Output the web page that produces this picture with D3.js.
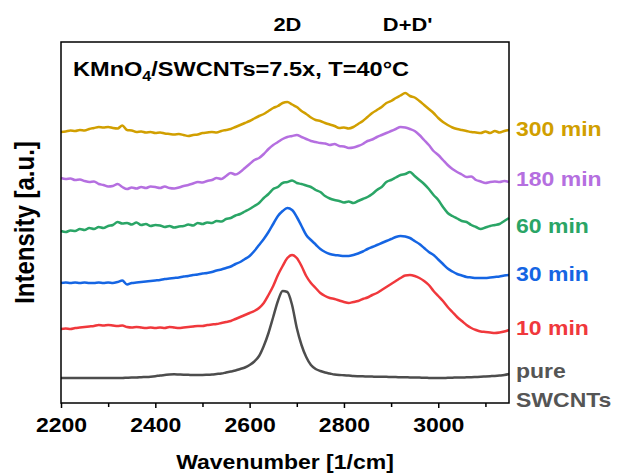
<!DOCTYPE html>
<html>
<head>
<meta charset="utf-8">
<script src="https://cdn.jsdelivr.net/npm/d3@7"></script>
<style>
  body { margin: 0; background: #fff; }
  text { font-family: "Liberation Sans", Arial, sans-serif; font-weight: bold; }
</style>
</head>
<body>
<div id="chart"></div>
<script>
// x sampling grid of the spectra (cm^-1)
const wavenumbers = d3.range(2200, 3151, 10)

// intensities (arbitrary units, offset already applied)
const pureSWCNTs = [25,25,25,25,25,25,25,25,25,25,25,25,25,25,25.3,25.5,25.5,25.8,26,26.3,26.8,27.5,28,28.5,28.7,28.5,28.3,28.2,28,28,28,28.2,28.5,29,29.5,30.5,31.5,32.5,34,35.5,38,41.5,47,57,70,86,102,112,111,98,75,58,46,38,34,32,30.5,29.5,28.5,28,27.8,27.5,27,26.8,26.7,26.5,26.4,26.3,26.3,26.2,26,25.9,25.8,25.7,25.6,25.5,25.4,25.2,25.1,25,25,25,25.2,25.3,25.5,25.5,25.7,25.8,26,26.2,26.5,26.8,27.1,27.5,28,29]
const min10 = [74,74.5,74,75,75.5,76,76.5,77,78,77.5,78,77.5,77,77.5,76,75.5,76,75.5,75,75.5,75,75.5,75,76,75.5,75,75.5,76,76.5,77,77,78,78.5,79,80,81,82,84,86,88,90,92,95,100,108,117,128,137,145,148,145,137,127,120,115,110,107,105,104,102.5,101,100,101,102,104,105.5,108,110,113,116,119,122,125,127.5,128,127,125,122,118,112,107,102,96,91,86,82,78,75,73,71.5,71,70.5,70,70.5,71.5,73]
const min30 = [120,120.5,120,120.5,120,120.5,120,120,120.5,120,120.5,120,121,122.5,118.5,120,120.5,121,121.5,122,122.5,123,124,124.5,125,125.5,126.5,127,128,128.5,129.5,130,131,132.5,133.5,135,136.5,139,141,144,147,152,158,164,171,179,187,192,195,193,186,177,168,163,158.5,154,151,149,148,147.5,147,147,148,149.5,151.5,154,156,158,160,162,164,166,167,166.5,165,162,159,155,151,148,143.5,139,134.5,131.5,129,127.5,126,125.5,125,125,125,125.5,126,126.5,127.5,128]
const min60 = [172,171,172.5,172,174,173,175,174,176,175,177,178,181,179.5,180,178.5,180.5,178,179,177,178,177.5,176,177,175.5,176.5,177,178.5,177.5,180,179,180.5,180,182,181.5,184,185,187.5,189,191.5,194,197,200,205,209,214,216,220,221,222.5,220,219,217.5,216,213,211,207,204.5,203,202,200.5,201.5,200,202,204,206,209,213,216,221,223,225.5,228,229,231,227,223,219,214,208,203,196,190,187,184.5,182,181,178,176,174,175.5,177,178,179,182,185]
const min180 = [225,224,224.5,223,223.5,222,221,221.5,219,218,216.5,217,219,216,214,215.5,214.5,216,215,216.5,216,215,216.5,215,214.5,215.5,217,218,219.5,221,220.5,222,223,225,224,227,230,228.5,231,235,239,243,245,249,254,258,261,264,266,267,268,266,264,262,261,260,259.5,258,259,257,256.5,255,255.5,257,259,262,263.5,266,268,270,272,274,276,275.5,274,272,268,263,258,252,248,243,238,234,231,228.5,226,226.5,223,221.5,220,221,221.5,221,222,221]
const min300 = [271,271.5,272.5,272,273,272.5,274,275,276,275.5,276,275,274.5,277.5,273,272.5,271,271.5,270.5,271,270,270.5,269.5,269,268.5,269,268,267,268,268.5,270,270.5,271,270.5,272,273,274,276,278,280,282,284.5,287,289,292,295,297,300,301,298.5,296,292,289,285.5,283,282,280,278.5,277,275,275.5,274.5,276,279,282,286,290,293,296,300,302,305,307.5,310,307,305.5,302,298,294,290,285,281,278,275.5,274,273,272,271,270.5,270,271.5,270,272,270.5,272,273]

const seriesNames = ['pure SWCNTs', '10 min', '30 min', '60 min', '180 min', '300 min']
const seriesValues = [pureSWCNTs, min10, min30, min60, min180, min300]
const seriesColors = ['#4d4d4d', '#f0383c', '#1565e3', '#2aa566', '#b56fe0', '#d19f00']

// tick labels
const majorTicks = [2200, 2400, 2600, 2800, 3000]
const minorTicks = [2300, 2500, 2700, 2900, 3100]

// # Layout
const width = 618
const height = 476
const margin = {top: 42, right: 109, bottom: 73, left: 61}
const innerW = width - margin.left - margin.right
const innerH = height - margin.top - margin.bottom
const stretch = 1.15   // text in the source image is a bit wider than tall

const svg = d3.select('#chart').append('svg')
    .attr('width', width)
    .attr('height', height)

const x = d3.scaleLinear().domain([2200, 3150]).range([margin.left, margin.left + innerW])
const y = d3.scaleLinear().domain([0, innerH]).range([margin.top + innerH, margin.top])

// # Helper for horizontally stretched labels
const label = (str, px, py, size, color, anchor='start') => {
    return svg.append('text')
        .attr('transform', `translate(${px},${py}) scale(${stretch},1)`)
        .attr('font-size', size)
        .attr('fill', color)
        .attr('text-anchor', anchor)
        .text(str)
}

// # Spectra
const line = d3.line()
    .x((d, i) => x(wavenumbers[i]))
    .y(d => y(d))
    .curve(d3.curveMonotoneX)

svg.append('g').selectAll('path')
    .data(seriesValues)
    .join('path')
    .attr('d', line)
    .attr('fill', 'none')
    .attr('stroke', (d, i) => seriesColors[i])
    .attr('stroke-width', 2.5)
    .attr('stroke-linejoin', 'round')

// # Frame
svg.append('rect')
    .attr('x', margin.left).attr('y', margin.top)
    .attr('width', innerW).attr('height', innerH)
    .attr('fill', 'none').attr('stroke', '#000').attr('stroke-width', 1.5)

// # Bottom axis, major + minor ticks
const axisG = svg.append('g').attr('transform', `translate(0,${margin.top + innerH})`)
axisG.call(d3.axisBottom(x).tickValues(majorTicks).tickSize(5).tickPadding(10).tickFormat(d3.format('d')))
axisG.select('.domain').remove()
axisG.selectAll('.tick line').attr('stroke', '#000').attr('stroke-width', 1.5)
axisG.selectAll('.tick text')
    .attr('font-size', 20)
    .attr('fill', '#000')
    .attr('font-family', '"Liberation Sans", Arial, sans-serif')
    .attr('font-weight', 'bold')
    .attr('transform', `scale(${stretch},1)`)

const minorG = svg.append('g').attr('transform', `translate(0,${margin.top + innerH})`)
minorG.call(d3.axisBottom(x).tickValues(minorTicks).tickSize(4).tickFormat(''))
minorG.select('.domain').remove()
minorG.selectAll('.tick line').attr('stroke', '#000').attr('stroke-width', 1.5)

// # Axis titles
label('Wavenumber [1/cm]', margin.left + innerW / 2, 469, 20, '#000', 'middle')
svg.append('text')
    .attr('transform', `translate(34,${margin.top + innerH / 2}) scale(${stretch},1) rotate(-90)`)
    .attr('font-size', 24)
    .attr('text-anchor', 'middle')
    .attr('fill', '#000')
    .text('Intensity [a.u.]')

// # Peak names above the frame
label('2D', x(2680), 31, 19, '#000', 'middle')
label("D+D'", x(2935), 31, 19, '#000', 'middle')

// # Condition note with subscript
const note = svg.append('text')
    .attr('transform', `translate(73,76) scale(${stretch},1)`)
    .attr('font-size', 20.5)
    .attr('fill', '#000')
note.append('tspan').text('KMnO')
note.append('tspan').attr('font-size', 14).attr('dy', 5).text('4')
note.append('tspan').attr('dy', -5).text('/SWCNTs=7.5x, T=40°C')

// # Series labels on the right
const labelX = margin.left + innerW + 7
const labelY = [378, 335, 281, 233, 186, 136]
seriesNames.forEach((name, i) => {
    if (i === 0) {
        label('pure', labelX, labelY[i], 20, '#555555')
        label('SWCNTs', labelX, labelY[i] + 29, 20, '#555555')
    } else {
        label(name, labelX, labelY[i], 20, seriesColors[i])
    }
})
</script>
</body>
</html>
